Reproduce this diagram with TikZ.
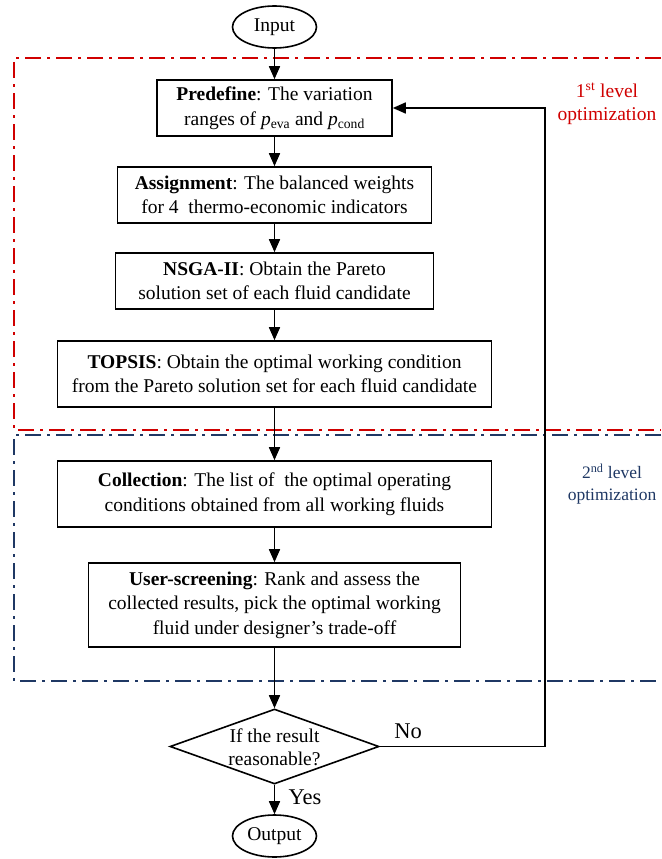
\documentclass[tikz,border=0pt]{standalone}
\usepackage{fontspec}
\setmainfont{Liberation Serif}
\usetikzlibrary{shapes.geometric,arrows.meta}
\definecolor{lvlred}{RGB}{208,0,0}
\definecolor{lvlblue}{RGB}{31,56,100}
\begin{document}
\begin{tikzpicture}[x=1pt,y=-1pt,
  box/.style={draw, line width=1.6pt, rectangle, align=center, inner sep=2pt},
  term/.style={draw, ellipse, line width=1.6pt, minimum width=84pt, minimum height=42pt, inner sep=0pt},
  flow/.style={line width=1.6pt, -{Triangle[length=13pt,width=11pt]}},
  lvl/.style={line width=1.8pt, dash pattern=on 16pt off 6pt on 3pt off 6pt},
  font=\fontsize{19.5}{24.5}\selectfont]
\useasboundingbox (0,0) rectangle (661,859);

% level frames
\coordinate (r1) at (661,58);
\coordinate (r2) at (14,58);
\coordinate (r3) at (14,430);
\coordinate (r4) at (661,430);
\draw[lvl, lvlred] (r1) -- (r2) -- (r3) -- (r4);
\coordinate (b1) at (661,435);
\coordinate (b2) at (14,435);
\coordinate (b3) at (14,681);
\coordinate (b4) at (661,681);
\draw[lvl, lvlblue] (b1) -- (b2) -- (b3) -- (b4);

\node[lvlred, align=center, font=\fontsize{19.5}{23}\selectfont] (lab1) at (607,103.5) {1\textsuperscript{st} level\\optimization};
\node[lvlblue, align=center, font=\fontsize{17.5}{22}\selectfont] (lab2) at (612,484) {2\textsuperscript{nd} level\\optimization};

% nodes
\node[term] (in) at (274.5,27) {Input};
\node[box, minimum width=235pt, minimum height=56pt] (pre) at (274.5,108)
  {\textbf{Predefine}: The variation\\ranges of \textit{p}\textsubscript{eva} and \textit{p}\textsubscript{cond}};
\node[box, minimum width=314pt, minimum height=56pt] (asg) at (274.5,195)
  {\textbf{Assignment}: The balanced weights\\for 4\ \ thermo-economic indicators};
\node[box, minimum width=318pt, minimum height=56pt] (nsga) at (274.5,281)
  {\textbf{NSGA-II}: Obtain the Pareto\\solution set of each fluid candidate};
\node[box, minimum width=434pt, minimum height=66pt] (top) at (274.5,374)
  {\textbf{TOPSIS}: Obtain the optimal working condition\\from the Pareto solution set for each fluid candidate};
\node[box, minimum width=434pt, minimum height=66pt] (col) at (274.5,494)
  {\textbf{Collection}: The list of\ \ the optimal operating\\conditions obtained from all working fluids};
\node[box, minimum width=372pt, minimum height=84pt] (usr) at (274.5,605)
  {\textbf{User-screening}: Rank and assess the\\collected results, pick the optimal working\\fluid under designer's trade-off};
\node[draw, diamond, line width=1.6pt, minimum width=209pt, minimum height=75pt, aspect=2.79, inner sep=0pt] (dia) at (274.5,746.5) {};
\node[align=center, font=\fontsize{19.5}{23}\selectfont] (diatext) at (274.5,747) {If the result\\reasonable?};
\node[term] (out) at (274.5,836) {Output};

% connectors
\draw[flow] (in) -- (pre);
\draw[flow] (pre) -- (asg);
\draw[flow] (asg) -- (nsga);
\draw[flow] (nsga) -- (top);
\draw[flow] (top) -- (col);
\draw[flow] (col) -- (usr);
\draw[flow] (usr) -- (dia);
\draw[flow] (dia) -- (out);
\coordinate (fbx) at (545,0);
\draw[flow] (dia.east) -- (dia.east -| fbx) -- (pre.east -| fbx) -- (pre.east);

\node[font=\fontsize{22.5}{27}\selectfont] (no) at (408,731) {No};
\node[font=\fontsize{22.5}{27}\selectfont] (yes) at (305,797) {Yes};
\end{tikzpicture}
\end{document}
